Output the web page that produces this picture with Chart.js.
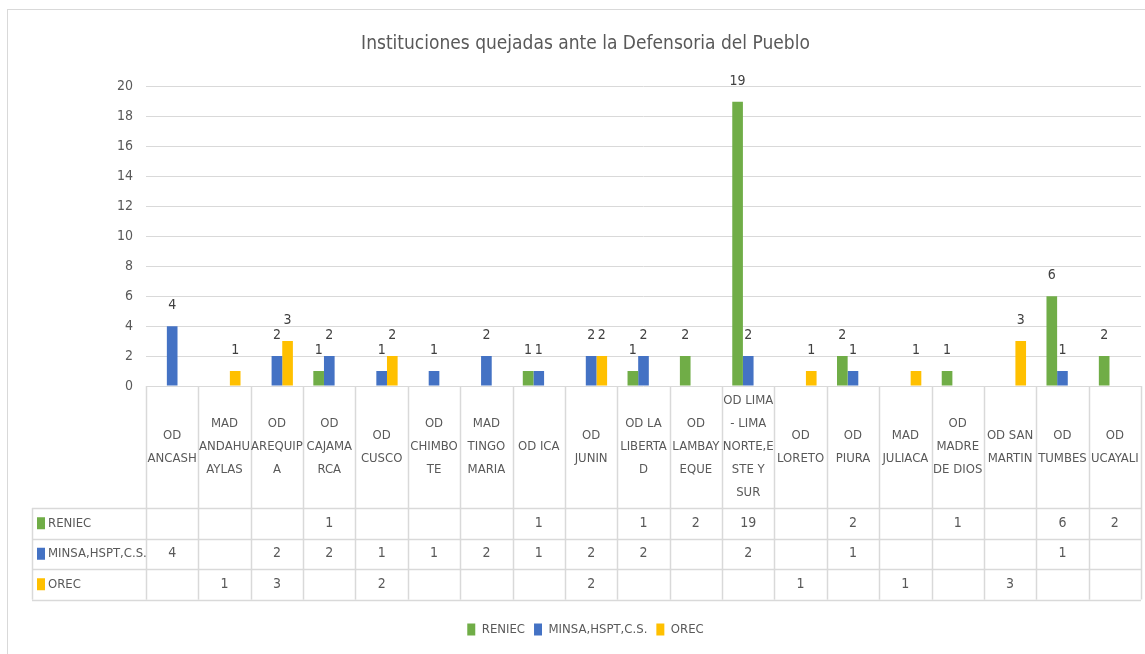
<!DOCTYPE html>
<html lang="es">

<head>
    <meta charset="UTF-8">
    <title>Instituciones quejadas ante la Defensoria del Pueblo</title>
    <script src="https://cdn.jsdelivr.net/npm/chart.js@4"></script>
    <style>
        html, body { margin: 0; padding: 0; overflow: hidden; background: #fff; }
        #wrap { position: relative; width: 1145px; height: 654px; }
        #frame { position: absolute; left: 7px; top: 9px; width: 1200px; height: 700px; border: 1px solid #d9d9d9; pointer-events: none; }
    </style>
</head>

<body>
    <div id="wrap">
        <canvas id="myChart" width="1145" height="654"></canvas>
        <div id="frame"></div>
    </div>

    <script>
        // categorias (etiquetas partidas en lineas como en la tabla)
        const categories = [
            ['OD', 'ANCASH'], ['MAD', 'ANDAHU', 'AYLAS'], ['OD', 'AREQUIP', 'A'], ['OD', 'CAJAMA', 'RCA'],
            ['OD', 'CUSCO'], ['OD', 'CHIMBO', 'TE'], ['MAD', 'TINGO', 'MARIA'], ['OD ICA'],
            ['OD', 'JUNIN'], ['OD LA', 'LIBERTA', 'D'], ['OD', 'LAMBAY', 'EQUE'],
            ['OD LIMA', '- LIMA', 'NORTE,E', 'STE Y', 'SUR'], ['OD', 'LORETO'], ['OD', 'PIURA'],
            ['MAD', 'JULIACA'], ['OD', 'MADRE', 'DE DIOS'], ['OD SAN', 'MARTIN'], ['OD', 'TUMBES'], ['OD', 'UCAYALI']
        ]

        const seriesNames = ['RENIEC', 'MINSA,HSPT,C.S.', 'OREC']
        const reniec = [null, null, null, 1, null, null, null, 1, null, 1, 2, 19, null, 2, null, 1, null, 6, 2]
        const minsa = [4, null, 2, 2, 1, 1, 2, 1, 2, 2, null, 2, null, 1, null, null, null, 1, null]
        const orec = [null, 1, 3, null, 2, null, null, null, 2, null, null, null, 1, null, 1, null, 3, null, null]
        const seriesColors = ['#70AD47', '#4472C4', '#FFC000']

        const yTicks = { min: 0, max: 20, step: 2 }

        const FONT = "'Liberation Sans Narrow', 'DejaVu Sans Condensed', sans-serif"
        const TEXT = '#595959'
        const LINE = '#d9d9d9'

        // etiquetas encima de las barras
        const barLabels = {
            id: 'barLabels',
            afterDatasetsDraw(chart) {
                const ctx = chart.ctx
                ctx.save()
                ctx.font = '14px ' + FONT
                ctx.fillStyle = '#404040'
                ctx.textAlign = 'center'
                ctx.textBaseline = 'alphabetic'
                chart.data.datasets.forEach((ds, di) => {
                    chart.getDatasetMeta(di).data.forEach((el, i) => {
                        if (ds.data[i] == null) return
                        ctx.fillText(ds.data[i], el.x, el.y - 17)
                    })
                })
                ctx.restore()
            }
        }

        // tabla de datos debajo del grafico
        const dataTable = {
            id: 'dataTable',
            afterDraw(chart) {
                const ctx = chart.ctx
                const x = chart.scales.x
                const area = chart.chartArea
                const n = categories.length
                const colW = (x.right - x.left) / n
                const headTop = area.bottom
                const headH = 122
                const rowH = 30.5
                const rows = [reniec, minsa, orec]
                const tableBottom = headTop + headH + rowH * rows.length
                const leftX = 32

                ctx.save()
                ctx.strokeStyle = LINE
                ctx.lineWidth = 1.5
                ctx.beginPath()
                // verticales
                for (let i = 0; i <= n; i++) {
                    const cx = Math.round(x.left + i * colW) + 0.5
                    ctx.moveTo(cx, headTop)
                    ctx.lineTo(cx, tableBottom)
                }
                ctx.moveTo(leftX + 0.5, headTop + headH)
                ctx.lineTo(leftX + 0.5, tableBottom)
                // horizontales
                for (let r = 0; r <= rows.length; r++) {
                    const ry = Math.round(headTop + headH + r * rowH) + 0.5
                    ctx.moveTo(leftX, ry)
                    ctx.lineTo(x.right, ry)
                }
                ctx.stroke()

                ctx.fillStyle = TEXT
                ctx.font = '13px ' + FONT
                ctx.textAlign = 'center'
                ctx.textBaseline = 'middle'
                const lh = 23
                const midHead = headTop + headH / 2
                categories.forEach((lines, i) => {
                    const cx = x.getPixelForValue(i)
                    const y0 = midHead - (lines.length - 1) * lh / 2
                    lines.forEach((t, k) => ctx.fillText(t, cx, y0 + k * lh))
                })

                rows.forEach((vals, r) => {
                    const cy = headTop + headH + r * rowH + rowH / 2
                    ctx.fillStyle = seriesColors[r]
                    ctx.fillRect(37, cy - 6, 8, 12)
                    ctx.fillStyle = TEXT
                    ctx.textAlign = 'left'
                    ctx.font = '13px ' + FONT
                    ctx.fillText(seriesNames[r], 48, cy)
                    ctx.font = '14px ' + FONT
                    ctx.textAlign = 'center'
                    vals.forEach((v, i) => {
                        if (v == null) return
                        ctx.fillText(v, x.getPixelForValue(i), cy)
                    })
                })
                ctx.restore()
            }
        }

        const ctx = document.getElementById('myChart').getContext('2d')
        const chart = new Chart(ctx, {
            type: 'bar',
            data: {
                labels: categories,
                datasets: seriesNames.map((name, i) => ({
                    label: name,
                    data: [reniec, minsa, orec][i],
                    backgroundColor: seriesColors[i],
                    barPercentage: 1,
                    categoryPercentage: 0.61
                }))
            },
            options: {
                responsive: false,
                animation: false,
                layout: { padding: { left: 30, right: 4, top: 0, bottom: 8 } },
                plugins: {
                    title: {
                        display: true,
                        text: 'Instituciones quejadas ante la Defensoria del Pueblo',
                        color: TEXT,
                        font: { family: FONT, size: 19, weight: 'normal' },
                        padding: { top: 33, bottom: 31 }
                    },
                    legend: {
                        position: 'bottom',
                        labels: {
                            color: TEXT,
                            font: { family: FONT, size: 13 },
                            boxWidth: 8,
                            boxHeight: 12,
                            padding: 9
                        }
                    },
                    tooltip: { enabled: false }
                },
                scales: {
                    x: {
                        grid: { display: false },
                        border: { display: false },
                        ticks: { display: false },
                        afterFit(s) { s.height = 228 }
                    },
                    y: {
                        min: yTicks.min,
                        max: yTicks.max,
                        ticks: {
                            stepSize: yTicks.step,
                            color: TEXT,
                            padding: 13,
                            font: { family: FONT, size: 14 }
                        },
                        grid: { color: LINE, lineWidth: 1, drawTicks: false },
                        border: { display: false },
                        afterFit(s) { s.width = 116 }
                    }
                }
            },
            plugins: [barLabels, dataTable]
        })
    </script>
</body>

</html>
